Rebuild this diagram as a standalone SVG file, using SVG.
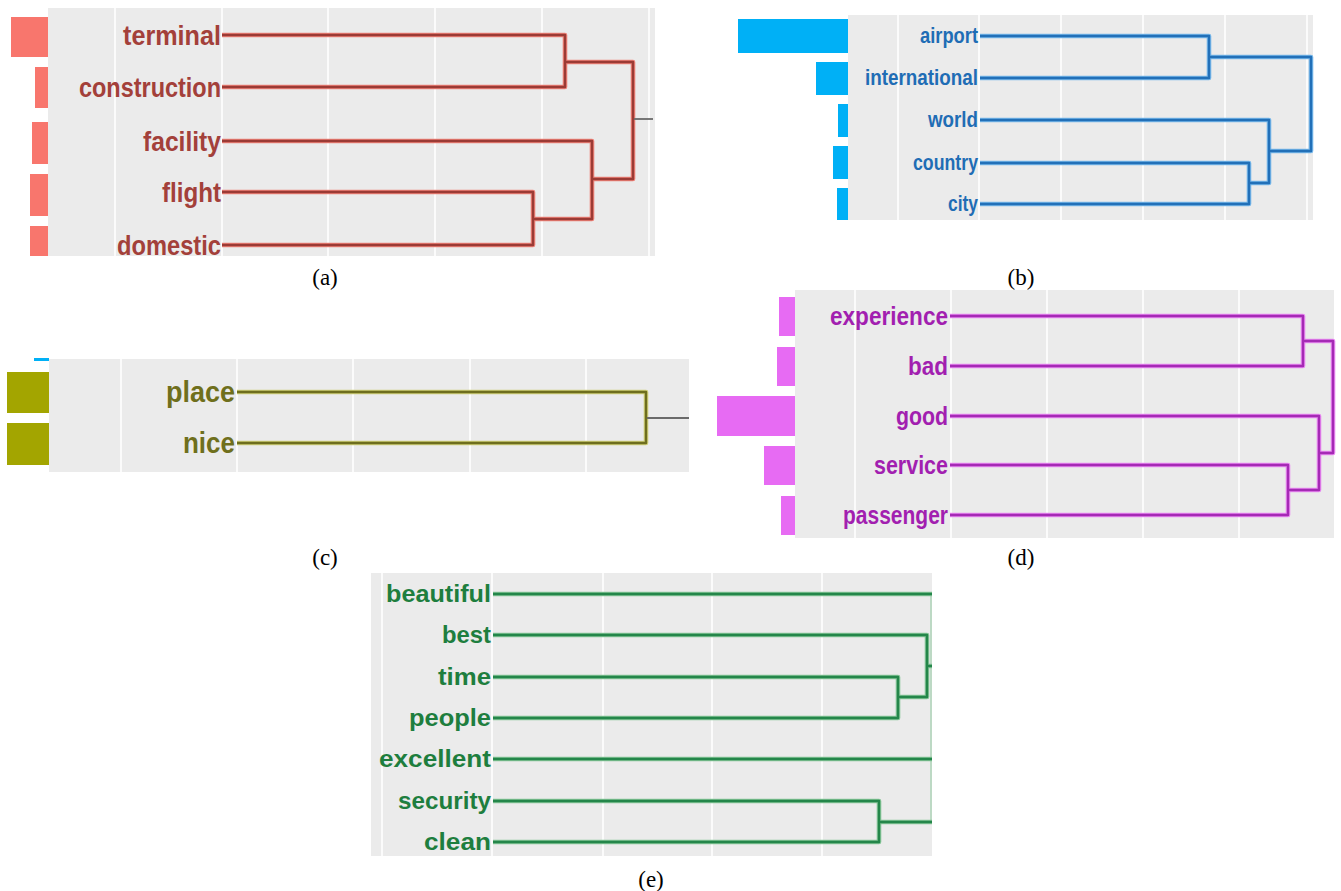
<svg xmlns="http://www.w3.org/2000/svg" xmlns:xlink="http://www.w3.org/1999/xlink" width="1341" height="891" viewBox="0 0 1341 891">
  <style>
    .bg { fill: #ebebeb; }
    .grid { stroke: #ffffff; stroke-width: 1.6; fill: none; }
    .lbl { font-family: "Liberation Sans Narrow", "Liberation Sans", Arial, sans-serif; font-weight: bold; text-anchor: end; }
    .lble { font-family: "Liberation Sans", Arial, sans-serif; font-weight: bold; text-anchor: end; }
    .cap { font-family: "Liberation Serif", "Times New Roman", serif; font-size: 23px; text-anchor: middle; fill: #000; }
    .halo { fill: none; stroke-width: 4.6; stroke-linejoin: round; }
    .core { fill: none; stroke-width: 2.4; stroke-linejoin: round; }
    .stub { fill: none; stroke: #6a6a6a; stroke-width: 1.8; }
    .ra { fill: #a3403a; font-size: 28px; }
    .rb { fill: #1f6db5; font-size: 22px; }
    .rc { fill: #6f6f1c; font-size: 29px; }
    .rd { fill: #a21fb0; font-size: 25px; }
    .re { fill: #1e7e3e; font-size: 24px; }
    .barA { fill: #f8766d; }
    .barB { fill: #00b0f6; }
    .barC { fill: #a3a500; }
    .barD { fill: #e76bf3; }
  </style>
  <defs>
    <path id="treeA" d="M222,35H565V87H222 M565,62H633V179H592 M222,141H592V219H533 M222,192H533V245H222"/>
    <path id="treeB" d="M980,36H1209V78H980 M1209,57H1311V151H1269 M980,120H1269V183H1249 M980,163H1249V204H980"/>
    <path id="treeC" d="M237,392H646V443H237"/>
    <path id="treeD" d="M950,316H1303V366H950 M1303,341H1333V453H1319 M950,416H1319V490H1288 M950,465H1288V515H950"/>
    <path id="treeE" d="M493,594H932 M493,635H927V697H898 M493,677H898V718H493 M927,666H932 M493,759H932 M493,801H879V842H493 M879,822H932"/>
  </defs>

  <!-- plot backgrounds and grid -->
  <g id="panels">
    <rect class="bg" x="48" y="8" width="607" height="248"/>
    <path class="grid" d="M115,8V256 M222,8V256 M328,8V256 M435,8V256 M542,8V256 M649,8V256"/>
    <rect class="bg" x="848" y="15" width="465" height="205"/>
    <path class="grid" d="M898,15V220 M979,15V220 M1061,15V220 M1143,15V220 M1225,15V220 M1307,15V220"/>
    <rect class="bg" x="49" y="359" width="640" height="113"/>
    <path class="grid" d="M121,359V472 M237,359V472 M353,359V472 M470,359V472 M586,359V472"/>
    <rect class="bg" x="795" y="290" width="539" height="248"/>
    <path class="grid" d="M855,290V538 M951,290V538 M1047,290V538 M1143,290V538 M1239,290V538"/>
    <rect class="bg" x="371" y="573" width="561" height="283"/>
    <path class="grid" d="M382,573V856 M492,573V856 M603,573V856 M712,573V856 M822,573V856"/>
  </g>

  <!-- dendrogram branches -->
  <g id="connectors">
    <use xlink:href="#treeA" class="halo" stroke="#ef8379"/>
    <use xlink:href="#treeA" class="core" stroke="#9b3b35"/>
    <path class="stub" d="M634,119H653"/>
    <use xlink:href="#treeB" class="halo" stroke="#78b8ea"/>
    <use xlink:href="#treeB" class="core" stroke="#2270b8"/>
    <use xlink:href="#treeC" class="halo" stroke="#cfcf78"/>
    <use xlink:href="#treeC" class="core" stroke="#6e6e1e"/>
    <path class="stub" d="M647,418H689"/>
    <use xlink:href="#treeD" class="halo" stroke="#e98af2"/>
    <use xlink:href="#treeD" class="core" stroke="#a52ab5"/>
    <path d="M931,594V822" stroke="#a9d2b4" stroke-width="1.4" fill="none"/>
    <use xlink:href="#treeE" class="halo" stroke="#86c598"/>
    <use xlink:href="#treeE" class="core" stroke="#24864a"/>
  </g>

  <!-- panel (a) leaves -->
  <g id="a-terminal"><rect class="barA" x="11" y="17" width="37" height="40"/><text class="lbl ra" x="221" y="45" textLength="98" lengthAdjust="spacingAndGlyphs">terminal</text></g>
  <g id="a-construction"><rect class="barA" x="35" y="67" width="13" height="41"/><text class="lbl ra" x="221" y="97" textLength="142" lengthAdjust="spacingAndGlyphs">construction</text></g>
  <g id="a-facility"><rect class="barA" x="32" y="122" width="16" height="42"/><text class="lbl ra" x="221" y="151" textLength="78" lengthAdjust="spacingAndGlyphs">facility</text></g>
  <g id="a-flight"><rect class="barA" x="30" y="174" width="18" height="42"/><text class="lbl ra" x="221" y="202" textLength="59" lengthAdjust="spacingAndGlyphs">flight</text></g>
  <g id="a-domestic"><rect class="barA" x="30" y="226" width="18" height="30"/><text class="lbl ra" x="221" y="255" textLength="104" lengthAdjust="spacingAndGlyphs">domestic</text></g>

  <!-- panel (b) leaves -->
  <g id="b-airport"><rect class="barB" x="738" y="19" width="110" height="34"/><text class="lbl rb" x="978" y="43" textLength="58" lengthAdjust="spacingAndGlyphs">airport</text></g>
  <g id="b-international"><rect class="barB" x="816" y="62" width="32" height="33"/><text class="lbl rb" x="978" y="85" textLength="113" lengthAdjust="spacingAndGlyphs">international</text></g>
  <g id="b-world"><rect class="barB" x="838" y="104" width="10" height="33"/><text class="lbl rb" x="978" y="127" textLength="50" lengthAdjust="spacingAndGlyphs">world</text></g>
  <g id="b-country"><rect class="barB" x="833" y="146" width="15" height="33"/><text class="lbl rb" x="978" y="170" textLength="65" lengthAdjust="spacingAndGlyphs">country</text></g>
  <g id="b-city"><rect class="barB" x="837" y="188" width="11" height="32"/><text class="lbl rb" x="978" y="211" textLength="30" lengthAdjust="spacingAndGlyphs">city</text></g>

  <!-- panel (c) leaves -->
  <rect class="barB" x="34" y="358" width="15" height="3"/>
  <g id="c-place"><rect class="barC" x="7" y="372" width="42" height="41"/><text class="lbl rc" x="235" y="402" textLength="69" lengthAdjust="spacingAndGlyphs">place</text></g>
  <g id="c-nice"><rect class="barC" x="7" y="423" width="42" height="42"/><text class="lbl rc" x="235" y="453" textLength="52" lengthAdjust="spacingAndGlyphs">nice</text></g>

  <!-- panel (d) leaves -->
  <g id="d-experience"><rect class="barD" x="779" y="297" width="16" height="39"/><text class="lbl rd" x="948" y="325" textLength="118" lengthAdjust="spacingAndGlyphs">experience</text></g>
  <g id="d-bad"><rect class="barD" x="777" y="347" width="18" height="39"/><text class="lbl rd" x="948" y="375" textLength="40" lengthAdjust="spacingAndGlyphs">bad</text></g>
  <g id="d-good"><rect class="barD" x="717" y="396" width="78" height="40"/><text class="lbl rd" x="948" y="425" textLength="52" lengthAdjust="spacingAndGlyphs">good</text></g>
  <g id="d-service"><rect class="barD" x="764" y="446" width="31" height="39"/><text class="lbl rd" x="948" y="474" textLength="74" lengthAdjust="spacingAndGlyphs">service</text></g>
  <g id="d-passenger"><rect class="barD" x="781" y="496" width="14" height="39"/><text class="lbl rd" x="948" y="524" textLength="105" lengthAdjust="spacingAndGlyphs">passenger</text></g>

  <!-- panel (e) leaves -->
  <g id="e-beautiful"><text class="lble re" x="491" y="602" textLength="105" lengthAdjust="spacingAndGlyphs">beautiful</text></g>
  <g id="e-best"><text class="lble re" x="491" y="643" textLength="49" lengthAdjust="spacingAndGlyphs">best</text></g>
  <g id="e-time"><text class="lble re" x="491" y="685" textLength="53" lengthAdjust="spacingAndGlyphs">time</text></g>
  <g id="e-people"><text class="lble re" x="491" y="726" textLength="82" lengthAdjust="spacingAndGlyphs">people</text></g>
  <g id="e-excellent"><text class="lble re" x="491" y="767" textLength="112" lengthAdjust="spacingAndGlyphs">excellent</text></g>
  <g id="e-security"><text class="lble re" x="491" y="809" textLength="93" lengthAdjust="spacingAndGlyphs">security</text></g>
  <g id="e-clean"><text class="lble re" x="491" y="850" textLength="67" lengthAdjust="spacingAndGlyphs">clean</text></g>

  <!-- sub-figure captions -->
  <g id="captions">
    <text class="cap" x="325" y="285">(a)</text>
    <text class="cap" x="1021" y="285">(b)</text>
    <text class="cap" x="325" y="565">(c)</text>
    <text class="cap" x="1021" y="565">(d)</text>
    <text class="cap" x="651" y="887">(e)</text>
  </g>
</svg>
